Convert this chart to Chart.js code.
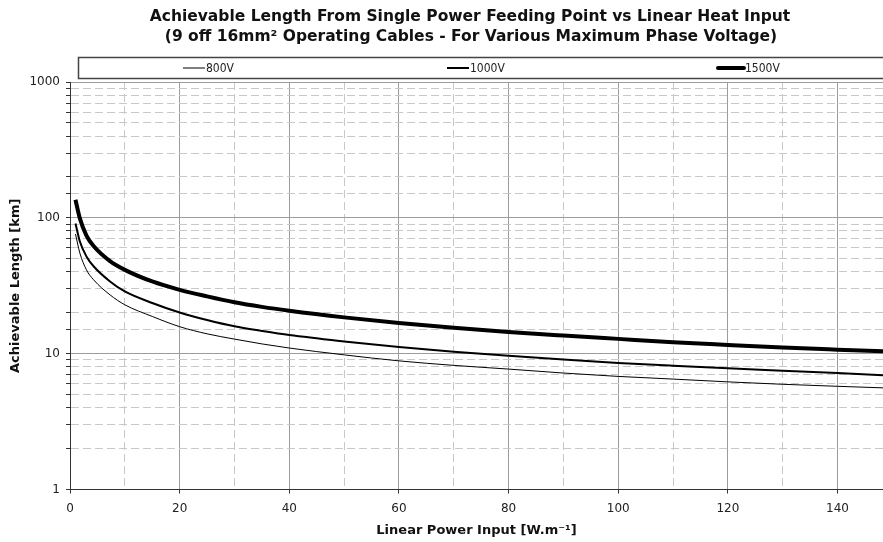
<!DOCTYPE html>
<html>
<head>
<meta charset="utf-8">
<script src="https://cdn.jsdelivr.net/npm/chart.js@4.4.1/dist/chart.umd.min.js"></script>
<style>
  html, body { margin: 0; padding: 0; background: #fff; }
  canvas { display: block; }
</style>
</head>
<body>
<canvas id="chart" width="883" height="542"></canvas>
<script>
// linear power input, W/m
const powerInput = [1, 1.8, 3, 4.3, 7.3, 10, 15, 20, 25, 30, 35, 40, 50, 60, 70, 80, 90, 100, 110, 120, 130, 140, 148.3];

// achievable length, km
const length800V  = [76, 55, 41.4, 35, 27.1, 22.9, 18.8, 15.8, 14, 12.8, 11.8, 11.0, 9.8, 8.85, 8.2, 7.7, 7.2, 6.8, 6.5, 6.2, 5.95, 5.75, 5.6];
const length1000V = [91, 67, 52, 44, 34, 28.7, 23.6, 20.1, 17.7, 15.9, 14.7, 13.7, 12.3, 11.2, 10.35, 9.65, 9.05, 8.55, 8.15, 7.8, 7.5, 7.2, 6.95];
const length1500V = [136, 99, 74, 62, 48, 41.4, 34, 29.5, 26.4, 23.9, 22.1, 20.7, 18.5, 16.8, 15.5, 14.45, 13.6, 12.85, 12.15, 11.6, 11.1, 10.7, 10.4];

const seriesLabels = ['800V', '1000V', '1500V'];
const xTicks = [0, 10, 20, 30, 40, 50, 60, 70, 80, 90, 100, 110, 120, 130, 140];

const titleLines = [
    'Achievable Length From Single Power Feeding Point vs Linear Heat Input',
    '(9 off 16mm\u00B2 Operating Cables - For Various Maximum Phase Voltage)'
];

Chart.defaults.font.family = '"DejaVu Sans", Verdana, sans-serif';
Chart.defaults.color = '#222';

const toPoints = (ys) => powerInput.map((x, i) => ({x: x, y: ys[i]}));
const isDecade = (v) => {
    const l = Math.log10(v);
    return Math.abs(l - Math.round(l)) < 1e-9;
};

const GRID_MAJOR = '#9c9c9c';
const GRID_MINOR = '#c8c8c8';

// two-line heading above the legend strip
const headingPlugin = {
    id: 'heading',
    afterDraw(chart) {
        const ctx = chart.ctx;
        ctx.save();
        ctx.fillStyle = '#111';
        ctx.font = 'bold 15.5px "DejaVu Sans"';
        ctx.textAlign = 'center';
        ctx.textBaseline = 'middle';
        ctx.fillText(titleLines[0], 470, 17);
        ctx.fillText(titleLines[1], 471, 37);
        ctx.restore();
    }
};

// boxed legend strip spanning the plot width
const legendStrip = {
    id: 'legendStrip',
    afterDraw(chart) {
        const ctx = chart.ctx;
        const slots = [183, 447, 718];
        ctx.save();
        ctx.strokeStyle = '#444';
        ctx.lineWidth = 1.5;
        ctx.strokeRect(78.5, 57.5, 820, 21);
        ctx.font = '12px "DejaVu Sans Condensed"';
        ctx.textBaseline = 'middle';
        ctx.fillStyle = '#222';
        chart.data.datasets.forEach((ds, i) => {
            const x = slots[i];
            const w = ds.borderWidth > 3 ? 26 : 22;
            ctx.beginPath();
            ctx.lineCap = ds.borderWidth > 3 ? 'round' : 'butt';
            ctx.lineWidth = ds.borderWidth;
            ctx.strokeStyle = ds.borderColor;
            ctx.moveTo(x, 68);
            ctx.lineTo(x + w, 68);
            ctx.stroke();
            ctx.fillText(ds.label, x + w + 1, 68.5);
        });
        ctx.restore();
    }
};

const gridColor = (c) => {
    if (!c.tick) return GRID_MAJOR;
    return (c.scale.axis === 'x' ? c.tick.value % 20 === 0 : isDecade(c.tick.value)) ? GRID_MAJOR : GRID_MINOR;
};
const gridDash = (c) => {
    if (!c.tick) return [];
    const major = c.scale.axis === 'x' ? c.tick.value % 20 === 0 : isDecade(c.tick.value);
    return major ? [] : [8, 4];
};

new Chart(document.getElementById('chart'), {
    type: 'line',
    data: {
        datasets: [
            {label: seriesLabels[0], data: toPoints(length800V), borderColor: '#000', borderWidth: 1},
            {label: seriesLabels[1], data: toPoints(length1000V), borderColor: '#000', borderWidth: 2},
            {label: seriesLabels[2], data: toPoints(length1500V), borderColor: '#000', borderWidth: 4}
        ]
    },
    options: {
        responsive: false,
        animation: false,
        devicePixelRatio: 1,
        layout: {padding: {top: 82, right: 0, left: 0, bottom: 0}},
        elements: {
            point: {radius: 0},
            line: {cubicInterpolationMode: 'monotone', fill: false}
        },
        plugins: {
            legend: {display: false},
            title: {display: false},
            tooltip: {enabled: false}
        },
        scales: {
            x: {
                type: 'linear',
                min: 0,
                max: 148.3,
                afterBuildTicks(scale) {
                    scale.ticks = xTicks.map(v => ({value: v}));
                },
                afterFit(scale) { scale.height = 52.5; },
                ticks: {
                    autoSkip: false,
                    maxRotation: 0,
                    padding: 8,
                    font: {size: 12},
                    callback: (v) => (v % 20 === 0 ? String(v) : '')
                },
                grid: {
                    color: gridColor,
                    lineWidth: 1,
                    tickLength: 4,
                    tickColor: (c) => (c.tick && c.tick.value % 20 === 0 ? '#333' : 'rgba(0,0,0,0)'),
                    tickBorderDash: []
                },
                border: {color: '#333', width: 1, dash: gridDash},
                title: {
                    display: true,
                    text: 'Linear Power Input [W.m\u207B\u00B9]',
                    font: {size: 13, weight: 'bold'},
                    color: '#111',
                    padding: {top: 0, bottom: 4}
                }
            },
            y: {
                type: 'logarithmic',
                min: 1,
                max: 1000,
                afterFit(scale) { scale.width = 70; },
                ticks: {
                    autoSkip: false,
                    padding: 6,
                    font: {size: 12},
                    callback: (v) => (isDecade(v) ? String(v) : '')
                },
                grid: {
                    color: gridColor,
                    lineWidth: 1,
                    tickLength: 4,
                    tickColor: '#333',
                    tickBorderDash: []
                },
                border: {color: '#333', width: 1, dash: gridDash},
                title: {
                    display: true,
                    text: 'Achievable Length [km]',
                    font: {size: 13, weight: 'bold'},
                    color: '#111',
                    padding: {top: 8, bottom: 0}
                }
            }
        }
    },
    plugins: [headingPlugin, legendStrip]
});
</script>
</body>
</html>
